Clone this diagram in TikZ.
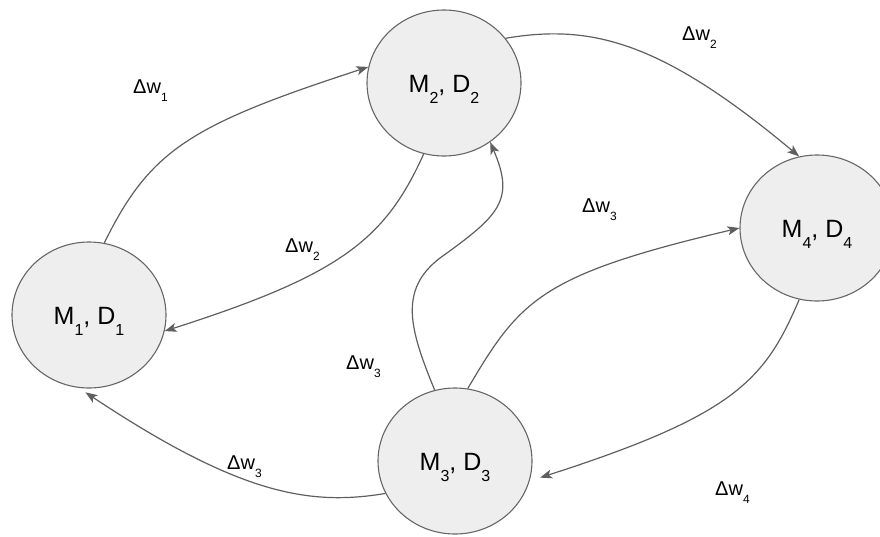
\documentclass[tikz,border=0pt]{standalone}
\usepackage{fontspec}
\setmainfont{Liberation Sans}
\usetikzlibrary{shapes.geometric,arrows.meta}
\definecolor{nodefill}{HTML}{EEEEEE}
\definecolor{nodeline}{HTML}{666666}
\definecolor{edgeline}{HTML}{5F5F5F}
% subscripts set low, as in the drawing program
\newcommand{\nsub}[1]{\raisebox{-11pt}{\fontsize{16}{16}\selectfont #1}}
\newcommand{\dw}[1]{Δw\raisebox{-8pt}{\fontsize{12}{12}\selectfont #1}}
\tikzset{
  mdnode/.style={ellipse, draw=nodeline, fill=nodefill, line width=1.1pt,
    minimum width=154pt, minimum height=146pt, inner sep=0pt,
    font=\fontsize{25}{25}\selectfont, text height=18pt, text depth=0pt},
  link/.style={draw=edgeline, line width=1.2pt,
    -{Stealth[length=12pt, width=9pt, inset=3pt]}},
  wlabel/.style={anchor=base west, inner sep=0pt, font=\fontsize{20}{20}\selectfont}
}
\begin{document}
\begin{tikzpicture}[x=1pt, y=-1pt]
\useasboundingbox (0,0) rectangle (880,536);
\clip (0,0) rectangle (880,536);

% nodes
\node[mdnode] (m1) at (89,315) {M\nsub{1}, D\nsub{1}};
\node[mdnode] (m2) at (444,83) {M\nsub{2}, D\nsub{2}};
\node[mdnode] (m3) at (455,461) {M\nsub{3}, D\nsub{3}};
\node[mdnode] (m4) at (817,228) {M\nsub{4}, D\nsub{4}};

% waypoint of the S-shaped link from M3 to M2
\coordinate (sbend) at (440,258);

% links
\draw[link] (m1.78) .. controls (150,150) and (190,125) .. (m2.168);
\draw[link] (m2.254) .. controls (385,240) and (340,275) .. (m1.-12);
\draw[link] (m2.36) .. controls (590,24) and (660,40) .. (m4.104);
\draw[link] (m3.106) .. controls (410,330) and (398,290) .. (sbend)
  .. controls (500,215) and (515,200) .. (m2.-52);
\draw[link] (m3.80) .. controls (520,300) and (540,275) .. (m4.180);
\draw[link, shorten >=11pt] (m4.256) .. controls (765,380) and (735,415) .. (m3.-15);
\draw[link, shorten >=8pt] (m3.205) .. controls (310,506) and (240,495) .. (m1.262);

% weight labels
\node[wlabel] (w1) at (133,93) {\dw{1}};
\node[wlabel] (w2a) at (682,40) {\dw{2}};
\node[wlabel] (w2b) at (285,252) {\dw{2}};
\node[wlabel] (w3a) at (582,212) {\dw{3}};
\node[wlabel] (w3b) at (346,369) {\dw{3}};
\node[wlabel] (w3c) at (227,469) {\dw{3}};
\node[wlabel] (w4) at (715,495) {\dw{4}};
\end{tikzpicture}
\end{document}
